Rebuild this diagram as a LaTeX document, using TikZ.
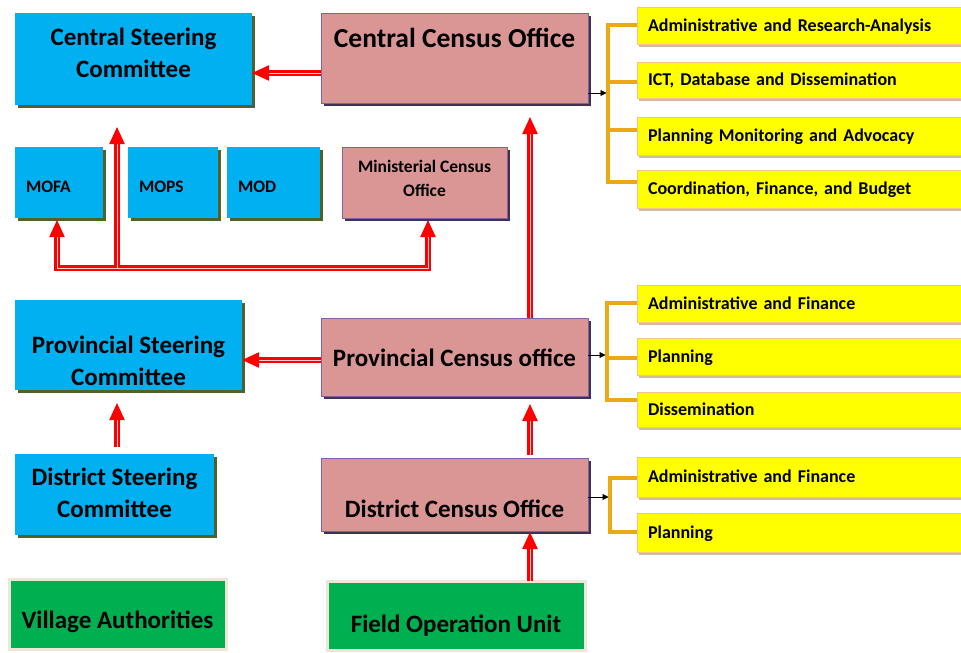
\documentclass[tikz,border=0pt]{standalone}
\usepackage{fontspec}
\setmainfont{Carlito}
\usetikzlibrary{arrows.meta,shadows}
\definecolor{skyb}{RGB}{0,176,240}
\definecolor{olivesh}{RGB}{79,98,40}
\definecolor{pinkf}{RGB}{217,150,148}
\definecolor{purpb}{RGB}{128,100,162}
\definecolor{purpsh}{RGB}{63,49,81}
\definecolor{greenf}{RGB}{0,176,80}
\definecolor{beigeb}{RGB}{238,230,215}
\definecolor{yellowf}{RGB}{255,255,0}
\definecolor{salmonb}{RGB}{250,192,144}
\definecolor{yellowsh}{RGB}{205,190,160}
\definecolor{orangeb}{RGB}{235,170,20}
\definecolor{redl}{RGB}{255,0,0}
\definecolor{redin}{RGB}{255,205,205}
\newcommand\ftMain{\bfseries\fontsize{25}{32}\selectfont}
\newcommand\ftBig{\bfseries\fontsize{27.5}{33}\selectfont}
\newcommand\ftSmall{\bfseries\fontsize{17.5}{24}\selectfont}
\newcommand\ftYel{\bfseries\fontsize{18}{22}\selectfont}
\tikzset{
  basebox/.style={inner sep=0pt, outer sep=0pt},
  bluebox/.style={basebox, fill=skyb, align=center, font=\ftMain,
    drop shadow={shadow xshift=2.5pt, shadow yshift=-2.5pt, fill=olivesh, opacity=1}},
  minbox/.style={basebox, fill=skyb, align=left, inner xsep=11pt, font=\ftSmall,
    text height=45pt, text depth=26pt,
    drop shadow={shadow xshift=2.5pt, shadow yshift=-2.5pt, fill=olivesh, opacity=1}},
  pinkbox/.style={basebox, fill=pinkf, draw=purpb, line width=1pt, align=center, font=\ftMain,
    drop shadow={shadow xshift=2.5pt, shadow yshift=-3pt, fill=purpsh, opacity=1}},
  greenbox/.style={basebox, fill=greenf, draw=beigeb, line width=3pt, font=\ftMain,
    drop shadow={shadow xshift=1.5pt, shadow yshift=-1.5pt, fill=black!20, opacity=1}},
  ybox/.style={basebox, anchor=west, fill=yellowf, draw=salmonb, line width=0.8pt,
    minimum width=340pt, text width=318pt, inner xsep=11pt, align=left,
    text height=14pt, text depth=2.5pt, font=\ftYel,
    drop shadow={shadow xshift=1.5pt, shadow yshift=-2.5pt, fill=yellowsh, opacity=1}},
  redarr/.style={draw=redl, line width=2.2pt, double=redin, double distance=0.9pt,
    -{Triangle[length=17pt,width=15pt]}},
  redboth/.style={draw=redl, line width=2.2pt, double=redin, double distance=0.9pt,
    {Triangle[length=17pt,width=15pt]}-{Triangle[length=17pt,width=15pt]}},
  blkarr/.style={draw=black, line width=0.9pt, -{Triangle[length=6pt,width=6pt]}},
  brk/.style={draw=orangeb, line width=3.2pt},
}
\begin{document}
\begin{tikzpicture}[x=1pt,y=-1pt]
\useasboundingbox (0,0) rectangle (961,653);
\clip (0,0) rectangle (961,653);
\fill[white] (0,0) rectangle (961,653);

% left column
\node[bluebox, minimum width=237pt, text height=64pt, text depth=28pt] (csc) at (133.5,59) {Central Steering\\Committee};
\node[minbox, text width=66pt] (mofa) at (59,182.5) {MOFA};
\node[minbox, text width=68pt] (mops) at (173,182.5) {MOPS};
\node[minbox, text width=71pt] (mod) at (273.5,182.5) {MOD};
\node[bluebox, minimum width=227pt, text height=85pt, text depth=5pt] (psc) at (128.5,345) {Provincial Steering\\Committee};
\node[bluebox, minimum width=199pt, text height=63pt, text depth=18pt] (dsc) at (114.5,494.5) {District Steering\\Committee};
\node[greenbox, minimum width=217pt, text height=49pt, text depth=21pt] (va) at (117.5,614) {Village Authorities};

% middle column
\node[pinkbox, minimum width=267pt, text height=34pt, text depth=56pt, font=\ftBig] (cco) at (454.5,58) {Central Census Office};
\node[pinkbox, minimum width=165pt, text height=49pt, text depth=22pt, font=\ftSmall, align=center] (mco) at (424.5,182.5) {Ministerial Census\\Office};
\node[pinkbox, minimum width=267pt, text height=48pt, text depth=30pt] (pco) at (454.5,357) {Provincial Census office};
\node[pinkbox, minimum width=267pt, text height=59pt, text depth=14pt] (dco) at (454.5,494.5) {District Census Office};
\node[greenbox, minimum width=258pt, text height=51pt, text depth=18pt] (fou) at (456,615.5) {Field Operation Unit};

% yellow boxes
\node[ybox, minimum height=37pt] (y1) at (637,25.5) {Administrative and Research-Analysis};
\node[ybox, minimum height=36pt] (y2) at (637,80) {ICT, Database and Dissemination};
\node[ybox, minimum height=38pt] (y3) at (637,136) {Planning Monitoring and Advocacy};
\node[ybox, minimum height=38pt] (y4) at (637,189) {Coordination, Finance, and Budget};
\node[ybox, minimum height=37pt] (p1) at (637,303.5) {Administrative and Finance};
\node[ybox, minimum height=37pt] (p2) at (637,356.5) {Planning};
\node[ybox, minimum height=35pt] (p3) at (637,409.5) {Dissemination};
\node[ybox, minimum height=40pt] (d1) at (637,477) {Administrative and Finance};
\node[ybox, minimum height=39pt] (d2) at (637,532.5) {Planning};

% brackets
\coordinate (bt) at (608,93);
\coordinate (bp) at (607,355);
\coordinate (bd) at (610,497);
\draw[brk] (y1.west |- 0,25) -| (bt |- 0,182) -- (y4.west |- 0,182);
\draw[brk] (bt |- 0,82) -- (y2.west |- 0,82);
\draw[brk] (bt |- 0,130) -- (y3.west |- 0,130);
\draw[brk] (p1.west |- 0,303) -| (bp |- 0,400) -- (p3.west |- 0,400);
\draw[brk] (bp |- 0,358) -- (p2.west |- 0,358);
\draw[brk] (d1.west |- 0,478) -| (bd |- 0,532) -- (d2.west |- 0,532);
\draw[blkarr] (cco.east |- bt) -- ([xshift=-1.5pt]bt);
\draw[blkarr] (pco.east |- bp) -- ([xshift=-1.5pt]bp);
\draw[blkarr] (dco.east |- bd) -- ([xshift=-1.5pt]bd);

% red connectors
\coordinate (busL) at (57,268);
\coordinate (busC) at (117,268);
\coordinate (busR) at (428,268);
\coordinate (vx) at (530,0);
\draw[redarr] (cco.west |- 0,73) -- (csc.east |- 0,73);
\draw[redboth, shorten <=2pt, shorten >=2pt] (mofa.south -| busL) -- (busL) -- (busR) -- (mco.south -| busR);
\draw[redarr, shorten >=22pt] (busC) -- (csc.south -| busC);
\draw[redarr, shorten >=14pt] (pco.north -| vx) -- (cco.south -| vx);
\draw[redarr] (pco.west |- 0,360) -- (psc.east |- 0,360);
\draw[redarr, shorten <=7pt, shorten >=13pt] (dsc.north -| busC) -- (psc.south -| busC);
\draw[redarr, shorten <=3pt, shorten >=8pt] (dco.north -| vx) -- (pco.south -| vx);
\draw[redarr, shorten >=1pt] (fou.north -| vx) -- (dco.south -| vx);
\end{tikzpicture}
\end{document}
